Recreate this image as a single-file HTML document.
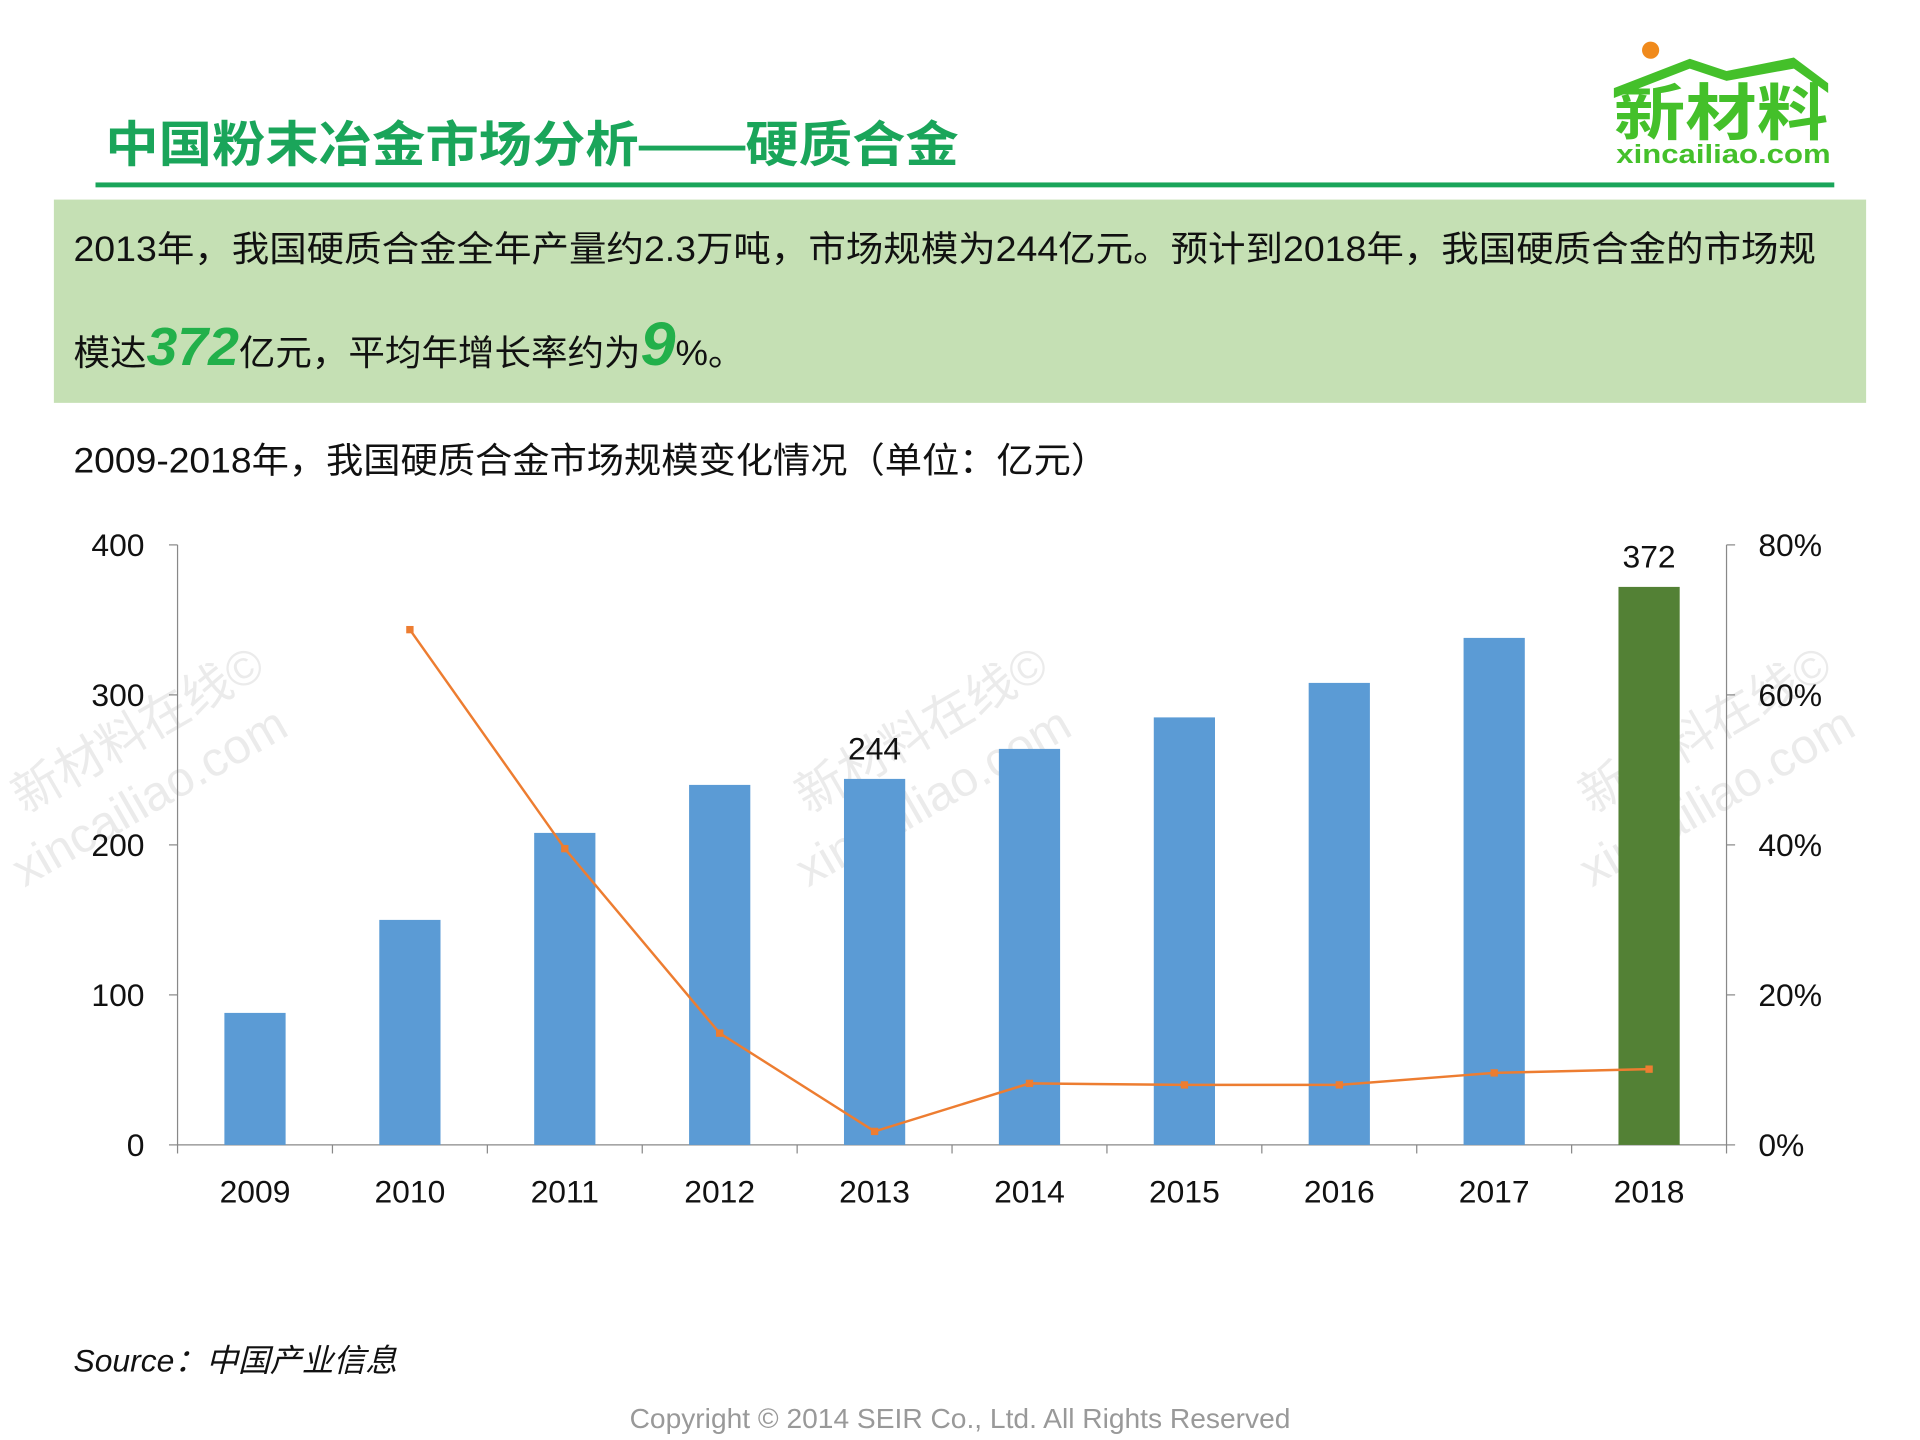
<!DOCTYPE html>
<html><head><meta charset="utf-8"><style>
html,body{margin:0;padding:0;background:#fff}
svg{display:block}
text{font-family:"Liberation Sans","Noto Sans CJK SC",sans-serif}
</style></head><body>
<svg id="s" width="1920" height="1440" viewBox="0 0 1568 1176" xmlns="http://www.w3.org/2000/svg">
<g>
<circle cx="1348" cy="41" r="7" fill="#f08a1c"/>
<path d="M1318 72 L1380 48 L1410 58 L1465 47 L1493 68 L1493 76 L1465 56 L1410 66 L1380 56 L1318 80 Z" fill="#44c02a"/>
<text x="1318" y="110" font-size="50" font-weight="bold" fill="#44c02a" textLength="175" lengthAdjust="spacingAndGlyphs">新材料</text>
<text x="1320" y="133" font-size="21" font-weight="bold" fill="#44c02a" textLength="175" lengthAdjust="spacingAndGlyphs">xincailiao.com</text>
</g>
<text x="86" y="132" font-size="40" font-weight="bold" fill="#1aa55a" textLength="697" lengthAdjust="spacingAndGlyphs">中国粉末冶金市场分析——硬质合金</text>
<rect x="78" y="149" width="1420" height="4" fill="#1aa55a"/>
<rect x="44" y="163" width="1480" height="166" fill="#c5e0b4"/>
<text x="60" y="213" font-size="29" fill="#111" textLength="1423" lengthAdjust="spacingAndGlyphs">2013年，我国硬质合金全年产量约2.3万吨，市场规模为244亿元。预计到2018年，我国硬质合金的市场规</text>
<text x="60" y="298" font-size="29" fill="#111" textLength="548" lengthAdjust="spacingAndGlyphs">模达<tspan font-size="44" font-weight="bold" font-style="italic" fill="#22b04a">372</tspan>亿元，平均年增长率约为<tspan font-size="50" font-weight="bold" font-style="italic" fill="#22b04a">9</tspan>%。</text>
<text x="60" y="386" font-size="29" fill="#111" textLength="845" lengthAdjust="spacingAndGlyphs">2009-2018年，我国硬质合金市场规模变化情况（单位：亿元）</text>
<g id="wm" fill="#000" opacity="0.08" font-size="40"></g>
<g id="chart"></g>
<text x="60" y="1120" font-size="26" font-style="italic" fill="#111">Source：中国产业信息</text>
<text x="784" y="1166" font-size="23" fill="#999" text-anchor="middle">Copyright © 2014  SEIR Co., Ltd. All Rights Reserved</text>
</svg>
<script>
const categories=["2009","2010","2011","2012","2013","2014","2015","2016","2017","2018"];
const marketSize=[88,150,208,240,244,264,285,308,338,372];
const growthRate=[null,68.7,39.5,14.9,1.8,8.2,8.0,8.0,9.6,10.1];
const leftTicks=[0,100,200,300,400];
const rightTicks=[0,20,40,60,80];
const labeled={"2013":"244","2018":"372"};
const NS="http://www.w3.org/2000/svg";
const X0=145,X1=1410,Y0=935,Y1=445;
const bw=(X1-X0)/categories.length;
const xc=i=>X0+bw*(i+0.5);
const yL=v=>Y0-(v/400)*(Y0-Y1);
const yR=v=>Y0-(v/80)*(Y0-Y1);
const g=document.getElementById('chart');
function mk(t,a,p){const e=document.createElementNS(NS,t);for(const k in a)e.setAttribute(k,a[k]);(p||g).appendChild(e);return e;}
let e=mk('line',{x1:X0,y1:Y1,x2:X0,y2:Y0,stroke:'#888'});


e=mk('line',{x1:X1,y1:Y1,x2:X1,y2:Y0,stroke:'#888'});


e=mk('line',{x1:X0,y1:Y0,x2:X1,y2:Y0,stroke:'#888'});


leftTicks.forEach(v=>{mk('line',{x1:X0-7,y1:yL(v),x2:X0,y2:yL(v),stroke:'#888'});
 const t=mk('text',{x:118,y:yL(v)+9,'font-size':26,'text-anchor':'end',fill:'#111'});t.textContent=v;
 
 });
rightTicks.forEach(v=>{mk('line',{x1:X1,y1:yR(v),x2:X1+7,y2:yR(v),stroke:'#888'});
 const t=mk('text',{x:1436,y:yR(v)+9,'font-size':26,fill:'#111'});t.textContent=v+'%';
 
 });
for(let i=0;i<=categories.length;i++)mk('line',{x1:X0+bw*i,y1:Y0,x2:X0+bw*i,y2:Y0+7,stroke:'#888'});
categories.forEach((c,i)=>{
 const last=i===categories.length-1;
 const r=mk('rect',{x:xc(i)-25,y:yL(marketSize[i]),width:50,height:Y0-yL(marketSize[i]),fill:last?'#538135':'#5b9bd5'});
 
 
 const t=mk('text',{x:xc(i),y:982,'font-size':26,'text-anchor':'middle',fill:'#111'});t.textContent=c;
 
 
 if(labeled[c]){const l=mk('text',{x:xc(i),y:yL(marketSize[i])-16,'font-size':26,'text-anchor':'middle',fill:'#111'});l.textContent=labeled[c];
  
  }
});
let pts=[];growthRate.forEach((v,i)=>{if(v!==null)pts.push(xc(i)+','+yR(v));});
e=mk('polyline',{points:pts.join(' '),fill:'none',stroke:'#ed7d31','stroke-width':2});


growthRate.forEach((v,i)=>{if(v===null)return;const m=mk('rect',{x:xc(i)-3,y:yR(v)-3,width:6,height:6,fill:'#ed7d31'});
 
 });
const wm=document.getElementById('wm');
[[20,665],[660,665],[1300,665]].forEach(([x,y])=>{
 const a=mk('text',{x:x,y:y,transform:`rotate(-30 ${x} ${y})`},wm);a.textContent='新材料在线©';
 
 
 const b=mk('text',{x:x,y:y+60,transform:`rotate(-30 ${x} ${y+60})`},wm);b.textContent='xincailiao.com';
 
 
});
</script>
</body></html>
